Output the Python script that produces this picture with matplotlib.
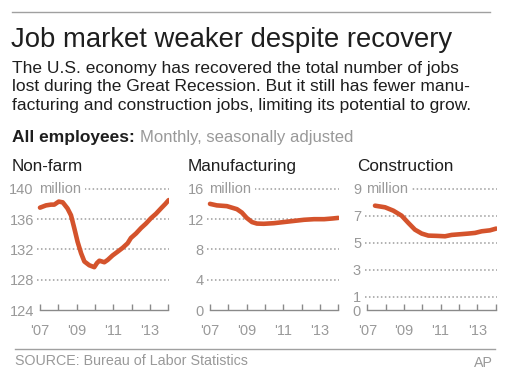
import matplotlib
matplotlib.use("Agg")
import matplotlib.pyplot as plt
from matplotlib.lines import Line2D

plt.rcParams['font.family'] = ['Liberation Sans', 'DejaVu Sans']

# Data (millions of jobs, decimal years)
nonfarm_years = [2007.0, 2007.33, 2007.6, 2007.78, 2008.02, 2008.24, 2008.5, 2008.69,
                 2008.87, 2009.05, 2009.24, 2009.42, 2009.69, 2009.96, 2010.11, 2010.24,
                 2010.51, 2010.69, 2010.96, 2011.24, 2011.51, 2011.78, 2011.96, 2012.24,
                 2012.51, 2012.78, 2013.05, 2013.33, 2013.6, 2013.84, 2014.02]
nonfarm_vals = [137.5, 137.8, 137.9, 137.9, 138.3, 138.2, 137.4, 136.5,
                134.8, 133.0, 131.5, 130.4, 129.9, 129.65, 130.2, 130.5,
                130.3, 130.6, 131.2, 131.7, 132.2, 132.8, 133.5, 134.1,
                134.8, 135.4, 136.1, 136.7, 137.4, 138.0, 138.5]

manuf_years = [2007.0, 2007.37, 2007.92, 2008.47, 2008.74, 2009.0, 2009.29, 2009.56,
               2009.93, 2010.48, 2011.03, 2011.58, 2012.13, 2012.68, 2013.23, 2013.68, 2014.0]
manuf_vals = [14.0, 13.8, 13.7, 13.3, 12.85, 12.15, 11.6, 11.4,
              11.37, 11.45, 11.6, 11.75, 11.9, 11.98, 11.98, 12.07, 12.15]

constr_years = [2007.42, 2007.97, 2008.42, 2008.87, 2009.24, 2009.6, 2009.97, 2010.33,
                2010.78, 2011.24, 2011.6, 2012.06, 2012.51, 2012.88, 2013.24, 2013.69, 2014.03]
constr_vals = [7.74, 7.62, 7.37, 7.0, 6.46, 5.96, 5.67, 5.52,
               5.5, 5.47, 5.57, 5.62, 5.67, 5.72, 5.84, 5.91, 6.04]

panel_titles = ["Non-farm", "Manufacturing", "Construction"]
panel_yticks = [[124, 128, 132, 136, 140], [0, 4, 8, 12, 16], [0, 1, 3, 5, 7, 9]]
year_ticks = [2007, 2008, 2009, 2010, 2011, 2012, 2013, 2014]
year_labels = ["'07", "", "'09", "", "'11", "", "'13", ""]

LINE = '#d4532c'
GRAY = '#999999'
DARK = '#1e1e1e'

W, H = 512, 382
fig = plt.figure(figsize=(W / 100, H / 100), dpi=100)


def fx(px):
    return px / W


def fy(py):
    return 1 - py / H


# top and bottom rules
fig.add_artist(Line2D([fx(12), fx(490)], [fy(12), fy(12)], color='#a0a0a0', lw=1))
fig.add_artist(Line2D([fx(15), fx(495)], [fy(349), fy(349)], color='#a0a0a0', lw=1))

# headline and chatter
fig.text(fx(11), fy(47), "Job market weaker despite recovery", fontsize=19.8,
         color=DARK, va='baseline')
chatter = ["The U.S. economy has recovered the total number of jobs",
           "lost during the Great Recession. But it still has fewer manu-",
           "facturing and construction jobs, limiting its potential to grow."]
for i, line in enumerate(chatter):
    fig.text(fx(12), fy(73 + i * 18.5), line, fontsize=12.5, color=DARK, va='baseline')

fig.text(fx(12), fy(142), "All employees:", fontsize=12.5, fontweight='bold',
         color=DARK, va='baseline')
fig.text(fx(140), fy(142), "Monthly, seasonally adjusted", fontsize=12,
         color=GRAY, va='baseline')

# three panels
px_per_year = 18.33
tick_x = [40, 210, 367.3]
title_x = [12, 188, 357]
series = [(nonfarm_years, nonfarm_vals), (manuf_years, manuf_vals),
          (constr_years, constr_vals)]

for k in range(3):
    left = tick_x[k] - 0.15 * px_per_year
    width = 7.2 * px_per_year
    ax = fig.add_axes([fx(left), fy(310), fx(width), (310 - 188.7) / H])
    yt = panel_yticks[k]
    ax.set_xlim(2007 - 0.15, 2014.05)
    ax.set_ylim(yt[0], yt[-1])

    for v in yt[1:]:
        ax.axhline(v, color='#9c9c9c', lw=1.1, ls=(0, (1, 1.6)), zorder=1, clip_on=False)

    xs, ys = series[k]
    ax.plot(xs, ys, color=LINE, lw=3.3, solid_capstyle='round', zorder=3)

    for s in ['top', 'right', 'left']:
        ax.spines[s].set_visible(False)
    ax.spines['bottom'].set_color('#8a8a8a')
    ax.spines['bottom'].set_linewidth(1)
    ax.spines['bottom'].set_bounds(2007, 2014)

    ax.set_xticks(year_ticks)
    ax.set_xticklabels(year_labels)
    ax.tick_params(axis='x', direction='in', length=4, width=1, color='#8a8a8a',
                   labelsize=10.5, labelcolor=GRAY, pad=10)
    ax.set_yticks(yt)
    ax.set_yticklabels([str(v) for v in yt])
    ax.tick_params(axis='y', length=0, labelsize=10.5, labelcolor=GRAY, pad=2.5)

    ax.text(2007 - 0.05, yt[-1], "million", fontsize=10.5, color=GRAY,
            ha='left', va='center', zorder=4,
            bbox=dict(facecolor='white', edgecolor='none', pad=2.5))

    fig.text(fx(title_x[k]), fy(171), panel_titles[k], fontsize=12.3,
             color=DARK, va='baseline')

# footer
fig.text(fx(15), fy(365), "SOURCE: Bureau of Labor Statistics", fontsize=10.3,
         color=GRAY, va='baseline')
fig.text(fx(493), fy(367), "AP", fontsize=10.3, color=GRAY, va='baseline', ha='right')

fig.savefig("out.png", dpi=100)
